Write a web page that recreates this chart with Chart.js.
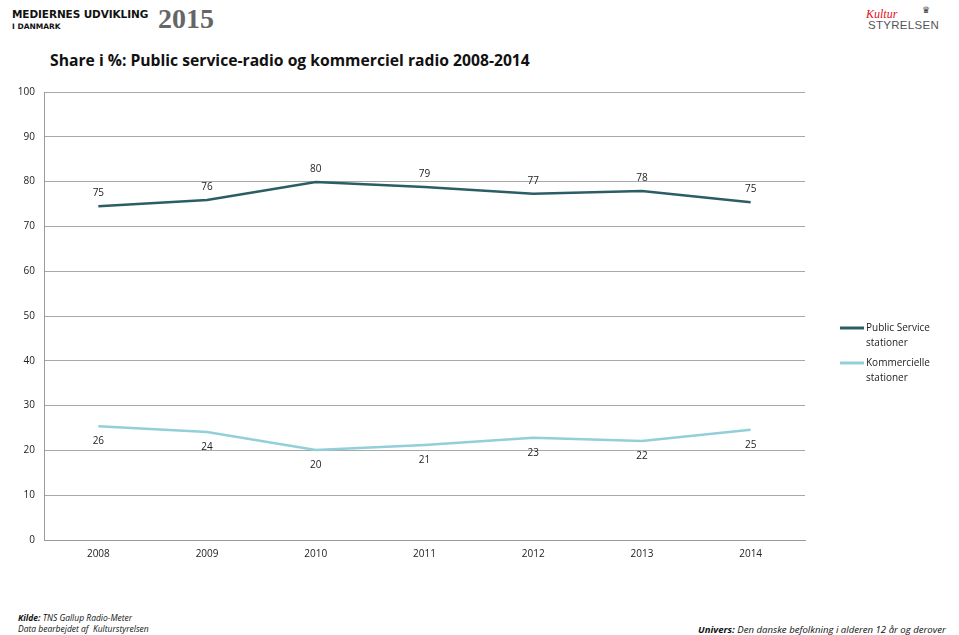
<!DOCTYPE html>
<html>
<head>
<meta charset="utf-8">
<script src="https://cdn.jsdelivr.net/npm/chart.js@4"></script>
<style>
  body { margin: 0; width: 959px; height: 635px; position: relative; background: #fff; font-family: "Open Sans", sans-serif; overflow: hidden; }
  #wrap { position: absolute; left: 0; top: 0; width: 959px; height: 635px; }
  .abs { position: absolute; white-space: nowrap; }
</style>
</head>
<body>
<div class="abs" style="left:12px;top:8px;font-family:'DejaVu Sans';font-weight:bold;font-size:10.5px;color:#111;letter-spacing:-0.1px">MEDIERNES UDVIKLING</div>
<div class="abs" style="left:12px;top:22px;font-family:'DejaVu Sans';font-weight:bold;font-size:7.5px;color:#111">I DANMARK</div>
<div class="abs" style="left:158px;top:3px;font-family:'Liberation Serif';font-weight:bold;font-size:28px;color:#666">2015</div>
<div class="abs" style="left:866px;top:7px;font-family:'Liberation Serif';font-style:italic;font-size:12px;color:#e01020">Kultur</div>
<div class="abs" style="left:922px;top:3px;font-size:9px;color:#333">&#9819;</div>
<div class="abs" style="left:868px;top:19px;font-family:'Liberation Sans';font-size:11.5px;color:#555;letter-spacing:0.3px">STYRELSEN</div>
<div class="abs" style="left:50px;top:49px;font-weight:bold;font-size:15.7px;color:#111">Share i %: Public service-radio og kommerciel radio 2008-2014</div>
<div class="abs" style="left:18px;top:612px;font-style:italic;font-size:8.5px;color:#111"><b>Kilde:</b> TNS Gallup Radio-Meter</div>
<div class="abs" style="left:18px;top:623px;font-style:italic;font-size:8.5px;color:#111">Data bearbejdet af&nbsp; Kulturstyrelsen</div>
<div class="abs" style="left:698px;top:623px;font-style:italic;font-size:9.6px;color:#111"><b>Univers:</b> Den danske befolkning i alderen 12 år og derover</div>
<div id="wrap"><canvas id="myChart"></canvas></div>
<script>
const years = ['2008', '2009', '2010', '2011', '2012', '2013', '2014'];
const publicValues = [74.5, 75.9, 79.9, 78.8, 77.3, 77.9, 75.4];
const publicLabels = ['75', '76', '80', '79', '77', '78', '75'];
const commercialValues = [25.4, 24.1, 20.1, 21.2, 22.8, 22.1, 24.6];
const commercialLabels = ['26', '24', '20', '21', '23', '22', '25'];
const yTicks = [0, 10, 20, 30, 40, 50, 60, 70, 80, 90, 100];

const seriesNames = [['Public Service', 'stationer'], ['Kommercielle', 'stationer']];

const valueLabels = {
    id: 'valueLabels',
    afterDatasetsDraw(chart) {
        const ctx = chart.ctx;
        ctx.save();
        ctx.font = '10px "Open Sans"';
        ctx.fillStyle = '#222';
        ctx.textAlign = 'center';
        chart.data.datasets.forEach((ds, i) => {
            const meta = chart.getDatasetMeta(i);
            meta.data.forEach((pt, j) => {
                if (i === 0) {
                    ctx.textBaseline = 'bottom';
                    ctx.fillText(ds.valueText[j], pt.x, pt.y - 8);
                } else {
                    ctx.textBaseline = 'top';
                    ctx.fillText(ds.valueText[j], pt.x, pt.y + 10);
                }
            });
        });
        // legend
        ctx.font = '10px "Open Sans"';
        ctx.textAlign = 'left';
        ctx.textBaseline = 'middle';
        const tops = [328, 363];
        chart.data.datasets.forEach((ds, i) => {
            ctx.strokeStyle = ds.borderColor;
            ctx.lineWidth = 3;
            ctx.beginPath();
            ctx.moveTo(840, tops[i]);
            ctx.lineTo(864, tops[i]);
            ctx.stroke();
            ctx.fillStyle = '#222';
            seriesNames[i].forEach((t, k) => ctx.fillText(t, 866, tops[i] + k * 15));
        });
        ctx.restore();
    }
};

const data = {
    labels: years,
    datasets: [{
        label: 'Public Service stationer',
        data: publicValues,
        valueText: publicLabels,
        borderColor: '#2b5e64',
        borderWidth: 2.5,
        pointRadius: 0,
        tension: 0
    }, {
        label: 'Kommercielle stationer',
        data: commercialValues,
        valueText: commercialLabels,
        borderColor: '#93cfd9',
        borderWidth: 2.5,
        pointRadius: 0,
        tension: 0
    }]
};

const config = {
    type: 'line',
    data: data,
    plugins: [valueLabels],
    options: {
        responsive: true,
        maintainAspectRatio: false,
        animation: false,
        layout: { padding: { top: 92, right: 154, left: 0, bottom: 0 } },
        plugins: { legend: { display: false }, tooltip: { enabled: false } },
        scales: {
            x: {
                offset: true,
                grid: { display: false, drawTicks: false },
                border: { color: '#9a9a9a' },
                ticks: { color: '#222', font: { size: 10, family: 'Open Sans' }, padding: 8 },
                afterFit: s => { s.height = 95; }
            },
            y: {
                min: 0,
                max: 100,
                afterBuildTicks: s => { s.ticks = yTicks.map(v => ({ value: v })); },
                grid: { color: '#a8a8a8', drawTicks: false },
                border: { color: '#9a9a9a' },
                ticks: { color: '#222', font: { size: 10, family: 'Open Sans' }, padding: 9 },
                afterFit: s => { s.width = 44; }
            }
        }
    }
};

const myChart = new Chart(document.getElementById('myChart'), config);
</script>
</body>
</html>
